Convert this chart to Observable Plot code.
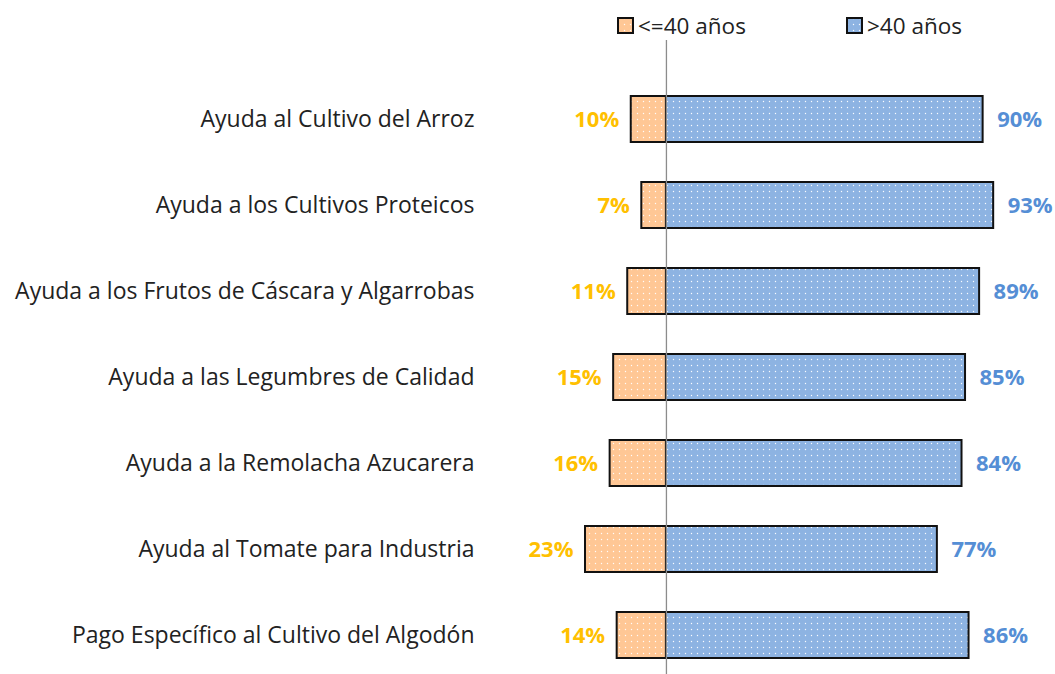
<!DOCTYPE html>
<html>
<head>
<meta charset="utf-8">
<script src="https://cdn.jsdelivr.net/npm/d3@7"></script>
<script src="https://cdn.jsdelivr.net/npm/@observablehq/plot@0.6"></script>
<style>
  html, body { margin: 0; padding: 0; background: #fff; }
  body { width: 1055px; height: 674px; overflow: hidden; font-family: "Open Sans", Lato, sans-serif; }
  #legend { position: relative; height: 34px; width: 1055px; font-size: 22.5px; color: #222; }
  .item { position: absolute; top: 9px; display: flex; align-items: center; height: 32px; }
  .item svg { margin-right: 4px; }
</style>
</head>
<body>
<div id="legend"></div>
<div id="chart"></div>
<script>
const categories = [
  "Ayuda al Cultivo del Arroz",
  "Ayuda a los Cultivos Proteicos",
  "Ayuda a los Frutos de Cáscara y Algarrobas",
  "Ayuda a las Legumbres de Calidad",
  "Ayuda a la Remolacha Azucarera",
  "Ayuda al Tomate para Industria",
  "Pago Específico al Cultivo del Algodón"
];
const young = [10, 7, 11, 15, 16, 23, 14];   // <=40 años
const old = [90, 93, 89, 85, 84, 77, 86];    // >40 años
const seriesNames = ["<=40 años", ">40 años"];

const colYoungFill = "#FFC795";
const colOldFill = "#8DB3E2";
const colYoungText = "#FFC000";
const colOldText = "#558ED5";

const rows = categories.map((c, i) => ({cat: c, young: young[i], old: old[i]}));

const chart = Plot.plot({
  width: 1055,
  height: 640,
  marginLeft: 490,
  marginRight: 2,
  marginTop: 6,
  marginBottom: 0,
  style: {fontFamily: "'Open Sans', Lato, sans-serif", background: "transparent"},
  x: {domain: [-50, 110], axis: null},
  y: {domain: categories, range: [38.6, 646.4], paddingInner: 0.47, paddingOuter: 0.235, label: null},
  marks: [
    Plot.axisY({tickSize: 0, tickPadding: 16, fontSize: 23, label: null, color: "#222"}),
    Plot.barX(rows, {x1: 0, x2: d => -d.young, y: "cat", fill: "url(#dotsYoung)", stroke: "#111", strokeWidth: 2}),
    Plot.barX(rows, {x1: 0, x2: "old", y: "cat", fill: "url(#dotsOld)", stroke: "#111", strokeWidth: 2}),
    Plot.ruleX([0], {stroke: "#8c8c8c", strokeWidth: 1.3}),
    Plot.text(rows, {x: d => -d.young, y: "cat", text: d => d.young + "%", textAnchor: "end", dx: -12, fill: colYoungText, fontSize: 22, fontWeight: "bold"}),
    Plot.text(rows, {x: "old", y: "cat", text: d => d.old + "%", textAnchor: "start", dx: 14, fill: colOldText, fontSize: 22, fontWeight: "bold"})
  ]
});

function addPatterns(svgSel) {
  const defs = svgSel.insert("defs", ":first-child");
  [["dotsYoung", colYoungFill], ["dotsOld", colOldFill]].forEach(([id, c]) => {
    const p = defs.append("pattern").attr("id", id).attr("width", 6).attr("height", 6).attr("patternUnits", "userSpaceOnUse");
    p.append("rect").attr("width", 6).attr("height", 6).attr("fill", c);
    p.append("circle").attr("cx", 1.5).attr("cy", 1.5).attr("r", 0.7).attr("fill", "#fff").attr("opacity", 0.95);
  });
}
addPatterns(d3.select(chart));
document.getElementById("chart").appendChild(chart);

// Legend
const legend = d3.select("#legend");
const legendItems = [
  {name: seriesNames[0], fill: "url(#dotsYoung)", left: 617},
  {name: seriesNames[1], fill: "url(#dotsOld)", left: 846}
];
legendItems.forEach(it => {
  const item = legend.append("div").attr("class", "item").style("left", it.left + "px");
  const s = item.append("svg").attr("width", 17).attr("height", 17);
  s.append("rect").attr("x", 1).attr("y", 1).attr("width", 15).attr("height", 15)
    .attr("fill", it.fill).attr("stroke", "#111").attr("stroke-width", 2);
  item.append("span").text(it.name);
});
</script>
</body>
</html>
